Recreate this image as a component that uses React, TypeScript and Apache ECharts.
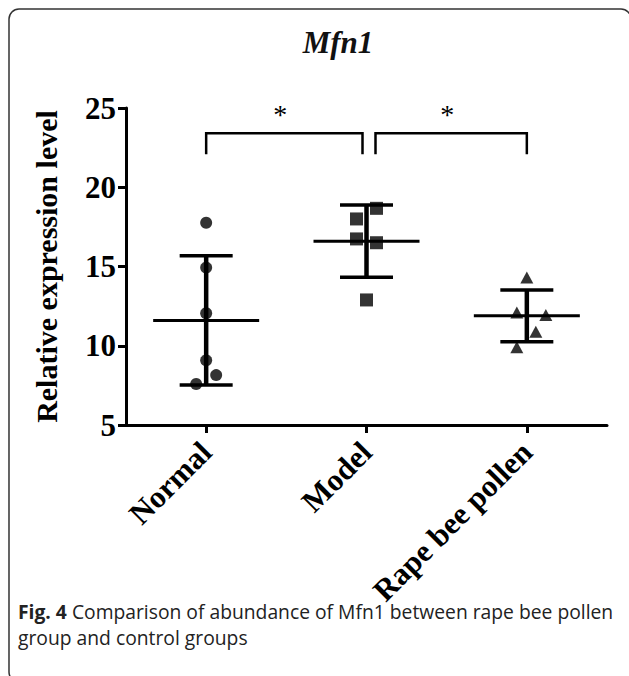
import React, { useEffect, useRef } from "react";
import * as echarts from "echarts";

const categories = ["Normal", "Model", "Rape bee pollen"];
const normalValues = [17.76, 14.93, 12.05, 9.08, 8.15, 7.59];
const modelValues = [18.67, 18.0, 16.74, 16.5, 12.89];
const pollenValues = [14.3, 12.1, 11.94, 10.89, 9.9];
const groupMeans = [11.6, 16.6, 11.89];
const groupSDs = [4.08, 2.28, 1.63];
const yTicks = [5, 10, 15, 20, 25];
const comparisons = [
  { from: 0, to: 1, level: 23.4, label: "*" },
  { from: 1, to: 2, level: 23.4, label: "*" },
];
const captionBold = "Fig. 4";
const captionLine1 = " Comparison of abundance of Mfn1 between rape bee pollen";
const captionLine2 = "group and control groups";

// horizontal jitter (pixels) for the dots, a style only
const jitterNormal = [0, 0, 0, 0, 10, -10];
const jitterModel = [10, -10, -10, 10, 0];
const jitterPollen = [0, -10, 19, 9, -10];

const SERIF = "'Liberation Serif', 'Times New Roman', serif";
const SANS = "'Open Sans', 'Noto Sans', sans-serif";

export default function App() {
  const ref = useRef<HTMLDivElement>(null);
  useEffect(() => {
    if (!ref.current) return;
    const chart = echarts.init(ref.current, undefined, { renderer: "svg" });
    const mk = (vals: number[], idx: number, jit: number[]) =>
      vals.map((v, i) => ({ value: [idx, v], symbolOffset: [jit[i], 0] }));

    const option: any = {
      animation: false,
      backgroundColor: "#ffffff",
      title: {
        text: "Mfn1",
        left: 333,
        top: 22,
        textAlign: "center",
        textStyle: {
          fontFamily: SERIF,
          fontWeight: "bold",
          fontStyle: "italic",
          fontSize: 31,
          color: "#111",
        },
      },
      grid: { left: 126, right: 22, top: 108, bottom: 251, containLabel: false },
      xAxis: {
        type: "category",
        data: categories,
        boundaryGap: true,
        axisLine: { show: true, lineStyle: { color: "#000", width: 3 } },
        axisTick: { show: true, alignWithLabel: true, length: 8, lineStyle: { color: "#000", width: 3 } },
        axisLabel: {
          rotate: 45,
          margin: 22,
          fontFamily: SERIF,
          fontWeight: "bold",
          fontSize: 31,
          color: "#000",
          interval: 0,
        },
        splitLine: { show: false },
      },
      yAxis: {
        type: "value",
        min: 5,
        max: 25,
        interval: 5,
        name: "Relative expression level",
        nameLocation: "middle",
        nameGap: 65,
        nameTextStyle: {
          fontFamily: SERIF,
          fontWeight: "bold",
          fontSize: 30,
          color: "#000",
        },
        axisLine: { show: true, lineStyle: { color: "#000", width: 3 } },
        axisTick: { show: true, length: 8, lineStyle: { color: "#000", width: 3 } },
        axisLabel: {
          margin: 10,
          fontFamily: SERIF,
          fontWeight: "bold",
          fontSize: 31,
          color: "#000",
          customValues: yTicks,
        },
        splitLine: { show: false },
      },
      graphic: [
        {
          type: "rect",
          shape: { x: 9, y: 9, width: 622, height: 673, r: 10 },
          style: { fill: "none", stroke: "#333", lineWidth: 1.5 },
          silent: true,
        },
        {
          type: "text",
          x: 18,
          y: 611,
          style: {
            text: "{b|" + captionBold + "}" + captionLine1,
            fontFamily: SANS,
            fontSize: 19.3,
            fill: "#222",
            verticalAlign: "middle",
            rich: { b: { fontWeight: "bold", fontFamily: SANS, fontSize: 19.3, fill: "#222" } },
          },
        },
        {
          type: "text",
          x: 18,
          y: 637,
          style: {
            text: captionLine2,
            fontFamily: SANS,
            fontSize: 19.3,
            fill: "#222",
            verticalAlign: "middle",
          },
        },
      ],
      series: [
        {
          type: "custom",
          name: "errorbars",
          data: groupMeans.map((m, i) => [i, m, groupSDs[i]]),
          renderItem: (params: any, api: any) => {
            const i = api.value(0);
            const m = api.value(1);
            const sd = api.value(2);
            const c = api.coord([i, m]);
            const t = api.coord([i, m + sd]);
            const b = api.coord([i, m - sd]);
            const meanHalf = 53;
            const capHalf = 26.5;
            const st = { stroke: "#000", lineWidth: 3.5 };
            return {
              type: "group",
              children: [
                { type: "line", shape: { x1: c[0] - meanHalf, y1: c[1], x2: c[0] + meanHalf, y2: c[1] }, style: { stroke: "#000", lineWidth: 3 } },
                { type: "line", shape: { x1: t[0], y1: t[1], x2: b[0], y2: b[1] }, style: { stroke: "#000", lineWidth: 4.5 } },
                { type: "line", shape: { x1: t[0] - capHalf, y1: t[1], x2: t[0] + capHalf, y2: t[1] }, style: st },
                { type: "line", shape: { x1: b[0] - capHalf, y1: b[1], x2: b[0] + capHalf, y2: b[1] }, style: st },
              ],
            };
          },
          z: 2,
        },
        {
          type: "custom",
          name: "brackets",
          data: comparisons.map((c) => [c.from, c.to, c.level]),
          renderItem: (params: any, api: any) => {
            const a = api.value(0);
            const bIdx = api.value(1);
            const lvl = api.value(2);
            const p0 = api.coord([a, lvl]);
            const p1 = api.coord([bIdx, lvl]);
            const x0 = p0[0] + (params.dataIndex === 0 ? 0 : 9);
            const x1 = p1[0] + (params.dataIndex === 0 ? -4 : 0);
            const y = p0[1];
            const drop = 21;
            return {
              type: "group",
              children: [
                {
                  type: "polyline",
                  shape: { points: [[x0, y + drop], [x0, y], [x1, y], [x1, y + drop]] },
                  style: { stroke: "#000", lineWidth: 2.5, fill: "none" },
                },
                {
                  type: "text",
                  x: (x0 + x1) / 2 - 4,
                  y: y - 19,
                  style: {
                    text: comparisons[params.dataIndex].label,
                    fontFamily: SERIF,
                    fontSize: 28,
                    fill: "#000",
                    align: "center",
                    verticalAlign: "middle",
                  },
                },
              ],
            };
          },
          z: 2,
        },
        {
          type: "scatter",
          name: "Normal",
          symbol: "circle",
          symbolSize: 12,
          itemStyle: { color: "#000" },
          data: mk(normalValues, 0, jitterNormal),
          z: 3,
        },
        {
          type: "scatter",
          name: "Model",
          symbol: "rect",
          symbolSize: 13,
          itemStyle: { color: "#000" },
          data: mk(modelValues, 1, jitterModel),
          z: 3,
        },
        {
          type: "scatter",
          name: "Rape bee pollen",
          symbol: "triangle",
          symbolSize: [13, 12],
          itemStyle: { color: "#000" },
          data: mk(pollenValues, 2, jitterPollen),
          z: 3,
        },
      ],
    };
    chart.setOption(option);
    return () => chart.dispose();
  }, []);
  return (
    <div
      ref={ref}
      style={{ position: "fixed", left: 0, top: 0, width: 629, height: 676, background: "#fff" }}
    />
  );
}
